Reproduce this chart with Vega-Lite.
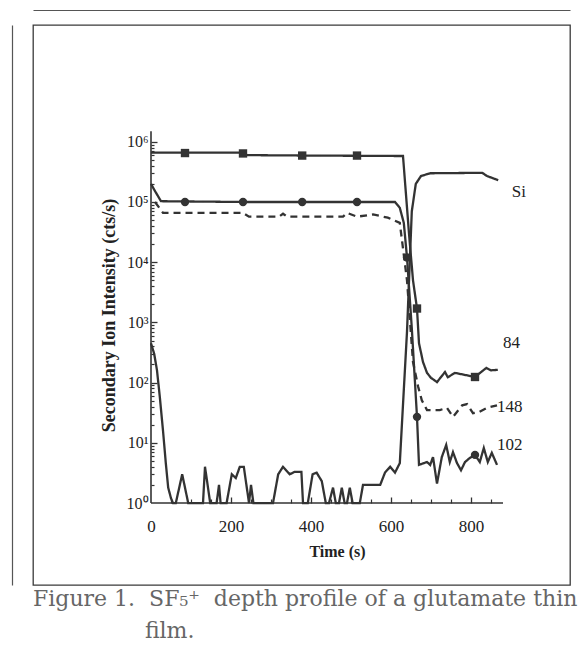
{
  "$schema": "https://vega.github.io/schema/vega-lite/v6.json",
  "width": 537,
  "height": 560,
  "padding": {"left": 12, "top": 10, "right": 14, "bottom": 5},
  "background": "white",
  "config": {
    "view": {"stroke": "#3a3a3a", "strokeWidth": 1.3},
    "font": "Liberation Serif"
  },
  "title": {
    "text": ["Figure 1.\u00a0\u00a0SF\u2085\u207a\u00a0\u00a0depth profile of a glutamate thin", "\u200b\u00a0\u00a0\u00a0\u00a0\u00a0\u00a0\u00a0\u00a0\u00a0\u00a0\u00a0\u00a0\u00a0\u00a0\u00a0\u00a0film."],
    "orient": "bottom",
    "anchor": "start",
    "frame": "bounds",
    "offset": 4,
    "dx": 21,
    "baseline": "top",
    "font": "DejaVu Serif",
    "fontSize": 22,
    "fontWeight": "normal",
    "color": "#666666",
    "lineHeight": 32
  },
  "datasets": {
    "profile": [
      {"s": "Si", "t": 0, "v": 450}, {"s": "Si", "t": 8, "v": 300}, {"s": "Si", "t": 15, "v": 160}, {"s": "Si", "t": 22, "v": 58},
      {"s": "Si", "t": 30, "v": 16}, {"s": "Si", "t": 37, "v": 4.6}, {"s": "Si", "t": 43, "v": 1.8}, {"s": "Si", "t": 50, "v": 1.2},
      {"s": "Si", "t": 55, "v": 1}, {"s": "Si", "t": 62, "v": 1}, {"s": "Si", "t": 78, "v": 3}, {"s": "Si", "t": 93, "v": 1},
      {"s": "Si", "t": 130, "v": 1}, {"s": "Si", "t": 135, "v": 4}, {"s": "Si", "t": 148, "v": 1}, {"s": "Si", "t": 164, "v": 1},
      {"s": "Si", "t": 170, "v": 2}, {"s": "Si", "t": 174, "v": 1}, {"s": "Si", "t": 189, "v": 1}, {"s": "Si", "t": 202, "v": 3},
      {"s": "Si", "t": 212, "v": 2.6}, {"s": "Si", "t": 222, "v": 4}, {"s": "Si", "t": 232, "v": 4}, {"s": "Si", "t": 245, "v": 1},
      {"s": "Si", "t": 250, "v": 2}, {"s": "Si", "t": 256, "v": 1}, {"s": "Si", "t": 305, "v": 1}, {"s": "Si", "t": 318, "v": 3},
      {"s": "Si", "t": 330, "v": 4}, {"s": "Si", "t": 347, "v": 3}, {"s": "Si", "t": 359, "v": 3.3}, {"s": "Si", "t": 376, "v": 3.3},
      {"s": "Si", "t": 380, "v": 1}, {"s": "Si", "t": 392, "v": 1}, {"s": "Si", "t": 404, "v": 3}, {"s": "Si", "t": 414, "v": 3.2},
      {"s": "Si", "t": 427, "v": 2.3}, {"s": "Si", "t": 437, "v": 1}, {"s": "Si", "t": 445, "v": 1}, {"s": "Si", "t": 455, "v": 1.8},
      {"s": "Si", "t": 462, "v": 1}, {"s": "Si", "t": 470, "v": 1}, {"s": "Si", "t": 477, "v": 1.8}, {"s": "Si", "t": 484, "v": 1},
      {"s": "Si", "t": 490, "v": 1}, {"s": "Si", "t": 497, "v": 1.8}, {"s": "Si", "t": 504, "v": 1}, {"s": "Si", "t": 522, "v": 1},
      {"s": "Si", "t": 530, "v": 2}, {"s": "Si", "t": 573, "v": 2}, {"s": "Si", "t": 585, "v": 3.2}, {"s": "Si", "t": 598, "v": 4},
      {"s": "Si", "t": 610, "v": 3.2}, {"s": "Si", "t": 622, "v": 4.6}, {"s": "Si", "t": 640, "v": 700}, {"s": "Si", "t": 652, "v": 70000},
      {"s": "Si", "t": 662, "v": 200000}, {"s": "Si", "t": 675, "v": 270000}, {"s": "Si", "t": 698, "v": 300000}, {"s": "Si", "t": 828, "v": 305000},
      {"s": "Si", "t": 840, "v": 270000}, {"s": "Si", "t": 868, "v": 230000},

      {"s": "84", "t": 0, "v": 660000}, {"s": "84", "t": 230, "v": 660000}, {"s": "84", "t": 240, "v": 600000}, {"s": "84", "t": 400, "v": 590000},
      {"s": "84", "t": 630, "v": 580000}, {"s": "84", "t": 645, "v": 30000}, {"s": "84", "t": 655, "v": 5000}, {"s": "84", "t": 665, "v": 1700},
      {"s": "84", "t": 670, "v": 450}, {"s": "84", "t": 680, "v": 220}, {"s": "84", "t": 690, "v": 145}, {"s": "84", "t": 700, "v": 120},
      {"s": "84", "t": 715, "v": 102}, {"s": "84", "t": 735, "v": 150}, {"s": "84", "t": 742, "v": 123}, {"s": "84", "t": 760, "v": 145},
      {"s": "84", "t": 810, "v": 124}, {"s": "84", "t": 838, "v": 175}, {"s": "84", "t": 850, "v": 160}, {"s": "84", "t": 867, "v": 163},

      {"s": "102", "t": 0, "v": 200000}, {"s": "102", "t": 8, "v": 160000}, {"s": "102", "t": 25, "v": 103000}, {"s": "102", "t": 230, "v": 100000},
      {"s": "102", "t": 400, "v": 100000}, {"s": "102", "t": 610, "v": 100000}, {"s": "102", "t": 622, "v": 80000}, {"s": "102", "t": 632, "v": 45000},
      {"s": "102", "t": 640, "v": 12000}, {"s": "102", "t": 652, "v": 800}, {"s": "102", "t": 665, "v": 27}, {"s": "102", "t": 670, "v": 4.3},
      {"s": "102", "t": 690, "v": 4.8}, {"s": "102", "t": 698, "v": 4.3}, {"s": "102", "t": 705, "v": 5.8}, {"s": "102", "t": 715, "v": 2.1},
      {"s": "102", "t": 727, "v": 5.8}, {"s": "102", "t": 738, "v": 9.2}, {"s": "102", "t": 747, "v": 4.8}, {"s": "102", "t": 755, "v": 7},
      {"s": "102", "t": 765, "v": 4.6}, {"s": "102", "t": 775, "v": 3.5}, {"s": "102", "t": 785, "v": 4.8}, {"s": "102", "t": 797, "v": 5.6},
      {"s": "102", "t": 810, "v": 6.3}, {"s": "102", "t": 822, "v": 4.8}, {"s": "102", "t": 832, "v": 8.2}, {"s": "102", "t": 842, "v": 4.8},
      {"s": "102", "t": 852, "v": 6.8}, {"s": "102", "t": 865, "v": 4.3},

      {"s": "148", "t": 10, "v": 100000}, {"s": "148", "t": 30, "v": 66000}, {"s": "148", "t": 230, "v": 66000}, {"s": "148", "t": 245, "v": 57000},
      {"s": "148", "t": 320, "v": 57000}, {"s": "148", "t": 330, "v": 64000}, {"s": "148", "t": 340, "v": 57000}, {"s": "148", "t": 480, "v": 57000},
      {"s": "148", "t": 490, "v": 66000}, {"s": "148", "t": 515, "v": 57000}, {"s": "148", "t": 555, "v": 62000}, {"s": "148", "t": 592, "v": 55000},
      {"s": "148", "t": 622, "v": 45000}, {"s": "148", "t": 640, "v": 5000}, {"s": "148", "t": 655, "v": 220}, {"s": "148", "t": 668, "v": 85},
      {"s": "148", "t": 677, "v": 51}, {"s": "148", "t": 690, "v": 35}, {"s": "148", "t": 722, "v": 35}, {"s": "148", "t": 740, "v": 38},
      {"s": "148", "t": 755, "v": 27}, {"s": "148", "t": 778, "v": 42}, {"s": "148", "t": 790, "v": 44}, {"s": "148", "t": 805, "v": 31},
      {"s": "148", "t": 818, "v": 32}, {"s": "148", "t": 840, "v": 38}, {"s": "148", "t": 865, "v": 42}
    ],
    "markers": [
      {"s": "84", "t": 85, "v": 650000}, {"s": "84", "t": 230, "v": 640000}, {"s": "84", "t": 378, "v": 590000},
      {"s": "84", "t": 515, "v": 590000}, {"s": "84", "t": 665, "v": 1700}, {"s": "84", "t": 810, "v": 124},
      {"s": "102", "t": 85, "v": 100000}, {"s": "102", "t": 230, "v": 100000}, {"s": "102", "t": 378, "v": 100000},
      {"s": "102", "t": 515, "v": 100000}, {"s": "102", "t": 640, "v": 12000}, {"s": "102", "t": 665, "v": 27},
      {"s": "102", "t": 810, "v": 6.3}
    ],
    "labels": [
      {"label": "Si", "t": 902, "v": 121000},
      {"label": "84", "t": 880, "v": 376},
      {"label": "148", "t": 865, "v": 32.6},
      {"label": "102", "t": 865, "v": 7.6}
    ]
  },
  "layer": [
    {
      "data": {"values": [{}]},
      "mark": {"type": "rule", "color": "#333333", "strokeWidth": 1.6},
      "encoding": {
        "x": {
          "datum": 0, "type": "quantitative",
          "scale": {"type": "linear", "domain": [-295, 1047.5], "nice": false, "zero": false},
          "axis": {
            "orient": "bottom", "offset": -82, "values": [0, 200, 400, 600, 800],
            "domain": false, "ticks": false, "grid": false, "labelFlush": false,
            "labelPadding": 15, "labelFont": "Liberation Serif", "labelFontSize": 17, "labelColor": "#222222",
            "title": "Time (s)", "titleFont": "Liberation Serif", "titleFontSize": 16, "titleFontWeight": "bold",
            "titleColor": "#222222", "titleX": 304, "titlePadding": 9
          }
        },
        "y": {
          "datum": 1, "type": "quantitative",
          "scale": {"type": "log", "domain": [0.0435, 87000000], "nice": false},
          "axis": {
            "orient": "left", "offset": -118, "values": [1, 10, 100, 1000, 10000, 100000, 1000000],
            "domain": false, "ticks": false, "grid": false, "labelFlush": false,
            "labelPadding": 3, "labelFont": "Liberation Serif", "labelFontSize": 16, "labelColor": "#222222",
            "labelExpr": "'10' + ['\u2070','\u00b9','\u00b2','\u00b3','\u2074','\u2075','\u2076'][round(log(datum.value) / LN10)]",
            "title": "Secondary Ion Intensity (cts/s)", "titleFont": "Liberation Serif", "titleFontSize": 18,
            "titleFontWeight": "bold", "titleColor": "#222222", "titlePadding": 8, "titleY": 290
          }
        },
        "y2": {"datum": 1500000}
      }
    },
    {
      "data": {"values": [{}]},
      "mark": {"type": "rule", "color": "#333333", "strokeWidth": 1.6},
      "encoding": {
        "x": {
          "datum": 0, "type": "quantitative",
          "scale": {"type": "linear", "domain": [-295, 1047.5], "nice": false, "zero": false},
          "axis": {
            "orient": "bottom", "offset": -82,
            "values": [50, 100, 150, 250, 300, 350, 450, 500, 550, 650, 700, 750, 850],
            "domain": false, "labels": false, "grid": false, "title": null,
            "tickSize": -4, "tickColor": "#333333", "tickWidth": 1.2
          }
        },
        "x2": {"datum": 880},
        "y": {
          "datum": 1, "type": "quantitative",
          "scale": {"type": "log", "domain": [0.0435, 87000000], "nice": false},
          "axis": {
            "orient": "left", "offset": -118,
            "values": [2, 3, 4, 5, 6, 7, 8, 9, 20, 30, 40, 50, 60, 70, 80, 90, 200, 300, 400, 500, 600, 700, 800, 900,
                       2000, 3000, 4000, 5000, 6000, 7000, 8000, 9000, 20000, 30000, 40000, 50000, 60000, 70000, 80000, 90000,
                       200000, 300000, 400000, 500000, 600000, 700000, 800000, 900000],
            "domain": false, "labels": false, "grid": false, "title": null,
            "tickSize": -3, "tickColor": "#333333", "tickWidth": 1.2
          }
        }
      }
    },
    {
      "data": {"name": "profile"},
      "mark": {"type": "line", "color": "#333333", "strokeWidth": 2.3},
      "encoding": {
        "x": {
          "field": "t", "type": "quantitative",
          "scale": {"type": "linear", "domain": [-295, 1047.5], "nice": false, "zero": false},
          "axis": {
            "orient": "bottom", "offset": -82, "values": [200, 400, 600, 800],
            "domain": false, "labels": false, "grid": false, "title": null,
            "tickSize": -6, "tickColor": "#333333", "tickWidth": 1.3
          }
        },
        "y": {
          "field": "v", "type": "quantitative",
          "scale": {"type": "log", "domain": [0.0435, 87000000], "nice": false},
          "axis": {
            "orient": "left", "offset": -118, "values": [10, 100, 1000, 10000, 100000, 1000000],
            "domain": false, "labels": false, "grid": false, "title": null,
            "tickSize": -6, "tickColor": "#333333", "tickWidth": 1.3
          }
        },
        "strokeDash": {
          "field": "s", "type": "nominal",
          "scale": {"domain": ["Si", "84", "102", "148"], "range": [[1, 0], [1, 0], [1, 0], [7, 5]]},
          "legend": null
        }
      }
    },
    {
      "data": {"name": "markers"},
      "mark": {"type": "point", "filled": true, "color": "#333333", "opacity": 1, "size": 70},
      "encoding": {
        "x": {
          "field": "t", "type": "quantitative",
          "axis": {"orient": "top", "offset": 15, "values": [], "labels": false, "ticks": false, "grid": false,
                   "title": null, "domain": true, "domainColor": "#555555", "domainWidth": 1.2}
        },
        "y": {
          "field": "v", "type": "quantitative",
          "axis": {"orient": "left", "offset": 21, "values": [], "labels": false, "ticks": false, "grid": false,
                   "title": null, "domain": true, "domainColor": "#555555", "domainWidth": 1.2}
        },
        "shape": {
          "field": "s", "type": "nominal",
          "scale": {"domain": ["84", "102"], "range": ["square", "circle"]},
          "legend": null
        }
      }
    },
    {
      "data": {"name": "labels"},
      "mark": {"type": "text", "align": "left", "baseline": "alphabetic", "font": "Liberation Serif", "fontSize": 17, "color": "#222222"},
      "encoding": {
        "x": {"field": "t", "type": "quantitative", "axis": null},
        "y": {"field": "v", "type": "quantitative", "axis": null},
        "text": {"field": "label"}
      }
    }
  ],
  "resolve": {"axis": {"x": "independent", "y": "independent"}}
}
